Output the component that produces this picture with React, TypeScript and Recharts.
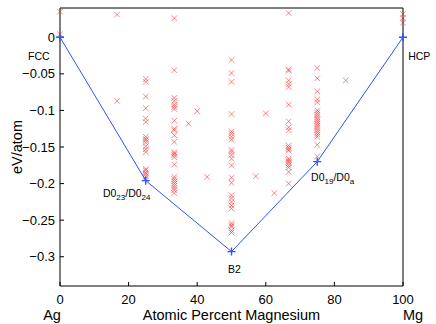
import { ComposedChart, Scatter, XAxis, YAxis, ReferenceDot } from 'recharts'

const xTicks = [0, 20, 40, 60, 80, 100]
const yTicks = [-0.3, -0.25, -0.2, -0.15, -0.1, -0.05, 0]

// formation energies (eV/atom) of the trial structures, one list per composition (at.% Mg)
const mg0 = [0.035, 0.004]
const mg17 = [0.031, -0.087]
const mg25 = [
  -0.057, -0.061, -0.081, -0.097, -0.111, -0.116, -0.136, -0.139, -0.141, -0.144,
  -0.149, -0.153, -0.157, -0.18, -0.182, -0.185, -0.187, -0.19, -0.193,
]
const mg33 = [
  0.026, -0.045, -0.083, -0.087, -0.092, -0.095, -0.098, -0.114, -0.125, -0.127,
  -0.134, -0.143, -0.157, -0.159, -0.161, -0.164, -0.174, -0.191, -0.194, -0.197,
  -0.2, -0.203, -0.206, -0.209, -0.213,
]
const mg50 = [
  -0.031, -0.049, -0.061, -0.105, -0.129, -0.132, -0.136, -0.14, -0.154, -0.157,
  -0.161, -0.166, -0.175, -0.192, -0.199, -0.216, -0.22, -0.225, -0.23, -0.234,
  -0.254, -0.257, -0.259, -0.264, -0.267,
]
const mg67 = [
  0.033, -0.044, -0.046, -0.059, -0.064, -0.068, -0.092, -0.115, -0.123, -0.127,
  -0.148, -0.151, -0.153, -0.155, -0.166, -0.168, -0.17, -0.172, -0.175, -0.178,
  -0.184, -0.2,
]
const mg75 = [
  -0.042, -0.056, -0.074, -0.085, -0.089, -0.1, -0.103, -0.106, -0.109, -0.112,
  -0.115, -0.118, -0.121, -0.124, -0.127, -0.13, -0.133, -0.136, -0.147, -0.163,
]
const mg100 = [0.032, 0.026, 0.02]

// odd compositions with a single structure each
const oddX = [37.5, 40, 42.9, 57.1, 60, 62.5, 83.3]
const oddE = [-0.118, -0.101, -0.191, -0.19, -0.104, -0.213, -0.059]

// ground state hull
const hullX = [0, 25, 50, 75, 100]
const hullE = [0, -0.196, -0.293, -0.17, 0]

const annotations = [
  { text: 'FCC', x: -9.3, y: -0.025 },
  { text: 'HCP', x: 101.5, y: -0.025 },
  { text: 'D0_23/D0_24', x: 12.5, y: -0.213 },
  { text: 'B2', x: 49, y: -0.317 },
  { text: 'D0_19/D0_a', x: 73.2, y: -0.191 },
]

const columns: [number, number[]][] = [
  [0, mg0],
  [100 / 6, mg17],
  [25, mg25],
  [100 / 3, mg33],
  [50, mg50],
  [200 / 3, mg67],
  [75, mg75],
  [100, mg100],
]

const structures = [
  ...columns.flatMap(([x, es]) => es.map((y) => ({ x, y }))),
  ...oddX.map((x, i) => ({ x, y: oddE[i] })),
]
const hull = hullX.map((x, i) => ({ x, y: hullE[i] }))

const RED = '#ff1a1a'
const BLUE = '#2f52ff'
const FONT = '"Liberation Sans", Arial, Helvetica, sans-serif'

function Cross(props: any) {
  const { cx, cy } = props
  const s = 2.8
  return (
    <path
      d={`M${cx - s},${cy - s}L${cx + s},${cy + s}M${cx - s},${cy + s}L${cx + s},${cy - s}`}
      stroke={RED}
      strokeWidth={0.9}
      strokeOpacity={0.6}
      fill="none"
    />
  )
}

function Plus(props: any) {
  const { cx, cy } = props
  const s = 4
  return (
    <path
      d={`M${cx - s},${cy}L${cx + s},${cy}M${cx},${cy - s}L${cx},${cy + s}`}
      stroke={BLUE}
      strokeWidth={1.4}
      fill="none"
    />
  )
}

const Nothing = () => <g />

// "D0_23/D0_24" -> D0 with subscripts
function renderAnnotation(text: string) {
  return (props: any) => {
    const parts = text.split(/(_\w+)/).filter(Boolean)
    let shifted = false
    return (
      <text
        x={props.cx}
        y={props.cy}
        fontSize={10.5}
        fontFamily={FONT}
        fill="#000"
        dominantBaseline="central"
      >
        {parts.map((p, i) => {
          if (p.startsWith('_')) {
            shifted = true
            return (
              <tspan key={i} dy={4} fontSize={8}>
                {p.slice(1)}
              </tspan>
            )
          }
          const dy = shifted ? -4 : 0
          shifted = false
          return (
            <tspan key={i} dy={dy}>
              {p}
            </tspan>
          )
        })}
      </text>
    )
  }
}

function XLabel(props: any) {
  const { x, y, width } = props.viewBox
  const ty = y + 29
  return (
    <g fontFamily={FONT} fontSize={14.5} fill="#000">
      <text x={x - 8} y={ty} textAnchor="middle" dominantBaseline="central">
        Ag
      </text>
      <text x={x + width / 2} y={ty} textAnchor="middle" dominantBaseline="central">
        Atomic Percent Magnesium
      </text>
      <text x={x + width + 10} y={ty} textAnchor="middle" dominantBaseline="central">
        Mg
      </text>
    </g>
  )
}

function YLabel(props: any) {
  const { x, y, height } = props.viewBox
  const cx = x + 17
  const cy = y + height / 2
  return (
    <text
      x={cx}
      y={cy}
      transform={`rotate(-90 ${cx} ${cy})`}
      textAnchor="middle"
      dominantBaseline="central"
      fontFamily={FONT}
      fontSize={14.5}
      fill="#000"
    >
      eV/atom
    </text>
  )
}

const fmtY = (v: number) => (v === 0 ? '0' : '\u2212' + String(Math.abs(v)))

export default function App() {
  const tick = { fill: '#000', fontSize: 13, fontFamily: FONT }
  const axisLine = { stroke: '#000', strokeWidth: 1 }
  return (
    <div
      style={{
        position: 'absolute',
        left: 0,
        top: 0,
        width: 436,
        height: 324,
        background: '#fff',
      }}
    >
      <ComposedChart
        width={436}
        height={324}
        margin={{ top: 7, right: 32, left: 0, bottom: 0 }}
      >
        <XAxis
          dataKey="x"
          type="number"
          domain={[0, 100]}
          ticks={xTicks}
          height={38}
          tick={tick}
          tickSize={-4}
          tickMargin={13}
          axisLine={axisLine}
          tickLine={axisLine}
          label={<XLabel />}
        />
        <XAxis
          xAxisId="top"
          dataKey="x"
          orientation="top"
          type="number"
          domain={[0, 100]}
          ticks={xTicks}
          height={1}
          tick={false}
          tickSize={-4}
          axisLine={axisLine}
          tickLine={axisLine}
        />
        <YAxis
          dataKey="y"
          type="number"
          domain={[-0.34, 0.04]}
          ticks={yTicks}
          width={60}
          tick={tick}
          tickSize={-4}
          tickMargin={9}
          tickFormatter={fmtY}
          axisLine={axisLine}
          tickLine={axisLine}
          label={<YLabel />}
        />
        <YAxis
          yAxisId="right"
          dataKey="y"
          orientation="right"
          type="number"
          domain={[-0.34, 0.04]}
          ticks={yTicks}
          width={1}
          tick={false}
          tickSize={-4}
          axisLine={axisLine}
          tickLine={axisLine}
        />
        {/* invisible series so the mirrored top/right axes get drawn */}
        <Scatter
          data={hull}
          xAxisId="top"
          yAxisId="right"
          shape={<Nothing />}
          isAnimationActive={false}
        />
        <Scatter data={structures} shape={<Cross />} isAnimationActive={false} />
        <Scatter
          data={hull}
          line={{ stroke: BLUE, strokeWidth: 1 }}
          shape={<Plus />}
          isAnimationActive={false}
        />
        {annotations.map((a) => (
          <ReferenceDot
            key={a.text}
            x={a.x}
            y={a.y}
            r={1}
            ifOverflow="visible"
            shape={renderAnnotation(a.text)}
          />
        ))}
      </ComposedChart>
    </div>
  )
}
